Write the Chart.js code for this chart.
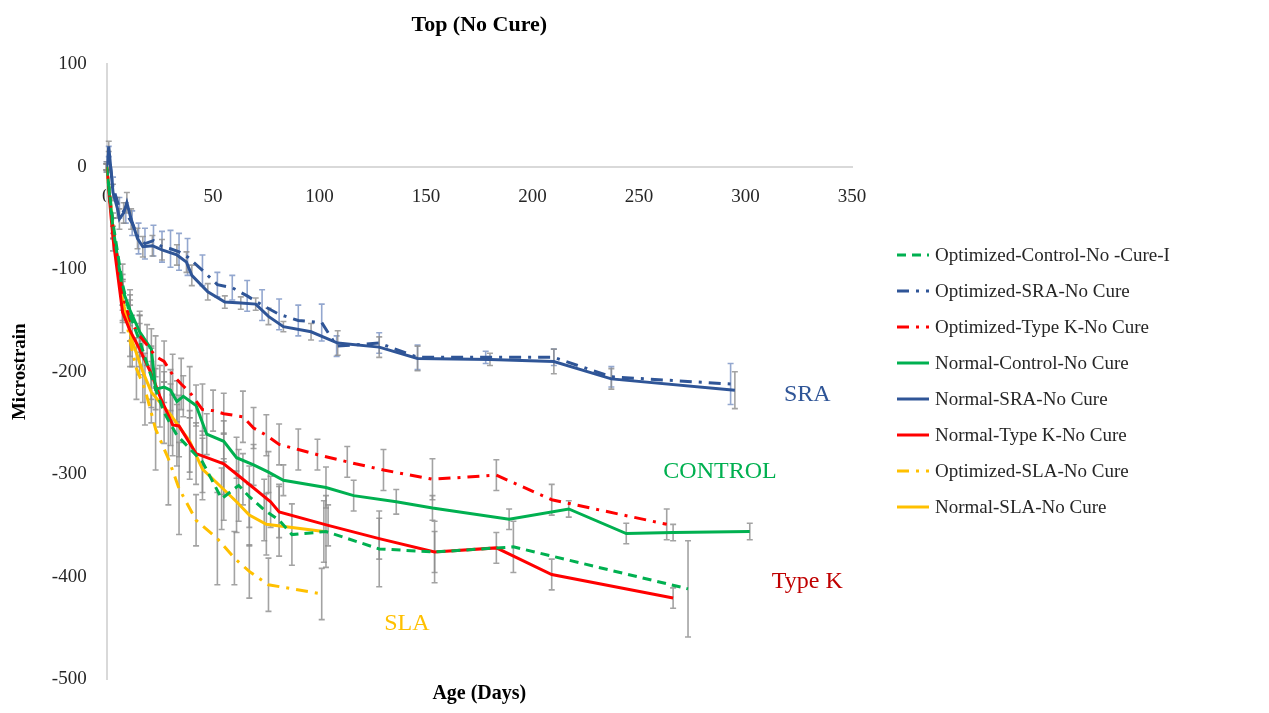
<!DOCTYPE html>
<html><head><meta charset="utf-8">
<script src="https://cdn.jsdelivr.net/npm/chart.js@4/dist/chart.umd.min.js"></script>
<style>html,body{margin:0;padding:0;background:#fff;}#wrap{width:1269px;height:713px;position:relative;}</style>
</head><body><div id="wrap"><canvas id="c"></canvas></div>
<script>
// ---- Data (days, microstrain, error half-widths) ----
const optCtrlDays = [0,3,7.5,11,15.5,21,27,33,39,45,54,62,67,74,81,87,103,128,154,191,273];
const optCtrlVals = [0,-55,-115,-145,-170,-205,-240,-262,-275,-288,-324,-311,-322,-335,-345,-359,-356,-373,-376,-371,-412];
const optCtrlErr  = [3,10,20,25,25,30,30,30,30,30,30,35,30,30,35,30,35,37,30,25,47];

const optSraDays = [0,1,3,6,9,12,15,18,22,26,30,34,38,45,52,59,66,73,81,90,101,108,128,146,178,210,237,293];
const optSraVals = [0,15,-20,-40,-45,-55,-70,-75,-72,-78,-80,-83,-88,-101,-115,-118,-126,-135,-144,-150,-152,-175,-172,-186,-186,-186,-205,-212];
const optSraErr  = [5,5,10,10,10,12,15,15,15,15,18,18,18,15,12,12,15,15,15,15,18,10,10,12,6,8,10,20];

const optTkDays = [0,3,7.5,11,15.5,19,23,27,31,35,39,45,50,55,64,69,75,81,90,99,113,130,153,183,209,263];
const optTkVals = [0,-60,-125,-150,-165,-174,-185,-190,-203,-212,-220,-237,-238,-241,-244,-255,-262,-271,-276,-281,-288,-296,-305,-301,-325,-349];
const optTkErr  = [3,10,15,20,20,20,20,20,20,25,25,25,20,20,25,20,20,20,20,15,15,20,20,15,15,15];

const normCtrlDays = [0,3,7.5,11,15.5,21,23,27,30,33,36,42,47,55,61,69,76,83,103,116,136,153,189,217,244,266,302];
const normCtrlVals = [0,-60,-120,-140,-161,-178,-217,-215,-218,-229,-224,-233,-261,-268,-284,-291,-298,-306,-313,-321,-327,-333,-344,-334,-358,-357,-356];
const normCtrlErr  = [3,10,15,15,20,20,20,15,20,20,20,20,20,20,20,20,20,15,20,15,12,12,10,8,10,8,8];

const normSraDays = [0,1,3,5,6,8,9.5,11.5,14.5,17,21.5,26,33,37.5,40,47.5,55.5,63,70,76,83,96,108.5,128,146,180,210,237,295];
const normSraVals = [0,20,-25,-40,-51,-45,-35,-51,-70,-78,-77,-81,-86,-93,-106,-122,-132,-133,-134,-146,-156,-161,-172,-176,-187,-188,-190,-207,-218];
const normSraErr  = [5,5,8,10,10,10,10,10,10,10,10,10,10,10,10,8,6,6,6,8,5,8,12,10,12,6,12,10,18];

const normTkDays = [0,3,7.5,11,15.5,21,25,31,34,42,55,64,77,81,104,128,154,183,209,266];
const normTkVals = [0,-70,-142,-160,-178,-202,-224,-252,-253,-280,-290,-305,-327,-337,-350,-363,-376,-372,-398,-421];
const normTkErr  = [3,12,20,25,25,25,30,30,30,30,30,25,25,25,20,20,20,15,15,10];

const optSlaDays = [0,3,7.5,11,14,18,23,29,34,42,52,60,67,76,101];
const optSlaVals = [0,-60,-132,-170,-197,-217,-256,-285,-314,-345,-363,-382,-395,-408,-417];
const optSlaErr  = [3,10,20,25,30,35,40,45,45,25,45,26,26,26,25];

const normSlaDays = [0,3,7.5,12,17,21,30,39,45,55,61,67,75,102];
const normSlaVals = [0,-60,-130,-170,-200,-220,-242,-268,-295,-315,-327,-340,-349,-356];
const normSlaErr  = [3,10,20,25,30,30,30,30,30,30,30,30,30,30];

const seriesNames = ['Optimized-Control-No -Cure-I','Optimized-SRA-No Cure','Optimized-Type K-No Cure','Normal-Control-No Cure','Normal-SRA-No Cure','Normal-Type K-No Cure','Optimized-SLA-No Cure','Normal-SLA-No Cure'];
const xTicks = [0,50,100,150,200,250,300,350];
const yTicks = [100,0,-100,-200,-300,-400,-500];
const annoTexts = ['SRA','CONTROL','Type K','SLA'];
const annoDays  = [329,288,329,141];
const annoVals  = [-222,-298,-405,-446];

// ---- styling ----
const BLUE='#2F5597', GREEN='#00B050', RED='#FF0000', YEL='#FFC000';
const SERIF="'Liberation Serif','Times New Roman',serif";
Chart.defaults.font.family = SERIF;
Chart.defaults.color = '#262626';

function pts(d,v){ return d.map((x,i)=>({x:x,y:v[i]})); }
function ds(name,d,v,e,color,dash,errColor){
  return {label:name,data:pts(d,v),errors:e,errColor:errColor||'rgba(140,140,140,0.8)',
    borderColor:color,backgroundColor:color,borderWidth:3,borderDash:dash,
    pointRadius:0,pointHoverRadius:0,pointStyle:'line',tension:0,fill:false};
}
const DASH=[9,6], DASHDOT=[12,7,3,7];
const datasets = [
  ds(seriesNames[0],optCtrlDays,optCtrlVals,optCtrlErr,GREEN,DASH),
  ds(seriesNames[1],optSraDays,optSraVals,optSraErr,BLUE,DASHDOT,'rgba(120,145,195,0.8)'),
  ds(seriesNames[2],optTkDays,optTkVals,optTkErr,RED,DASHDOT),
  ds(seriesNames[3],normCtrlDays,normCtrlVals,normCtrlErr,GREEN,[]),
  ds(seriesNames[4],normSraDays,normSraVals,normSraErr,BLUE,[]),
  ds(seriesNames[5],normTkDays,normTkVals,normTkErr,RED,[]),
  ds(seriesNames[6],optSlaDays,optSlaVals,optSlaErr,YEL,DASHDOT),
  ds(seriesNames[7],normSlaDays,normSlaVals,normSlaErr,YEL,[])
];

const errorBars = {
  id:'errorBars',
  beforeDatasetsDraw(chart){
    const {ctx,scales:{x,y}} = chart;
    ctx.save(); ctx.lineWidth=1.6; ctx.setLineDash([]);
    chart.data.datasets.forEach((d,i)=>{
      if(!d.errors || !chart.isDatasetVisible(i)) return;
      ctx.strokeStyle=d.errColor;
      d.data.forEach((p,j)=>{
        const e=d.errors[j]; if(!e) return;
        const px=x.getPixelForValue(p.x), y1=y.getPixelForValue(p.y+e), y2=y.getPixelForValue(p.y-e);
        ctx.beginPath();
        ctx.moveTo(px,y1); ctx.lineTo(px,y2);
        ctx.moveTo(px-3,y1); ctx.lineTo(px+3,y1);
        ctx.moveTo(px-3,y2); ctx.lineTo(px+3,y2);
        ctx.stroke();
      });
    });
    ctx.restore();
  }
};
const annoColors=[BLUE,GREEN,'#C00000',YEL];
const annotations = {
  id:'annos',
  afterDatasetsDraw(chart){
    const {ctx,scales:{x,y}} = chart;
    ctx.save(); ctx.font='24px '+SERIF; ctx.textAlign='center'; ctx.textBaseline='middle';
    annoTexts.forEach((t,i)=>{ ctx.fillStyle=annoColors[i]; ctx.fillText(t,x.getPixelForValue(annoDays[i]),y.getPixelForValue(annoVals[i])); });
    ctx.restore();
  }
};
// legend drawn beside the plot, one row per dataset
const sideLegend = {
  id:'sideLegend',
  afterDraw(chart){
    const ctx=chart.ctx, L={x:897,y:255,gap:36,line:32,text:38};
    ctx.save(); ctx.font='19px '+SERIF; ctx.textBaseline='middle'; ctx.textAlign='left';
    chart.data.datasets.forEach((d,i)=>{
      const yy=L.y+i*L.gap;
      ctx.strokeStyle=d.borderColor; ctx.lineWidth=3; ctx.setLineDash(d.borderDash||[]);
      ctx.beginPath(); ctx.moveTo(L.x,yy); ctx.lineTo(L.x+L.line,yy); ctx.stroke();
      ctx.setLineDash([]); ctx.fillStyle='#262626'; ctx.fillText(d.label,L.x+L.text,yy+1);
    });
    ctx.restore();
  }
};

new Chart(document.getElementById('c'),{
  type:'line',
  data:{datasets:datasets},
  plugins:[errorBars,annotations,sideLegend],
  options:{
    responsive:true, maintainAspectRatio:false, animation:false,
    layout:{padding:{left:7,right:417,top:0,bottom:0}},
    plugins:{
      title:{display:true,text:'Top (No Cure)',fullSize:false,font:{size:22,weight:'bold'},color:'#000',padding:{top:12,bottom:26}},
      subtitle:{display:true,position:'bottom',text:'Age (Days)',fullSize:false,font:{size:20,weight:'bold'},color:'#000',padding:{top:3,bottom:7}},
      legend:{display:false},
      tooltip:{enabled:false}
    },
    scales:{
      x:{type:'linear',position:{y:0},min:0,max:350,
        afterBuildTicks(s){ s.ticks = xTicks.map(v=>({value:v})); },
        grid:{display:false,drawTicks:false},
        border:{display:true,color:'#D9D9D9',width:2},
        ticks:{padding:19,font:{size:19},color:'#262626',maxRotation:0}},
      y:{type:'linear',min:-500,max:100,
        afterBuildTicks(s){ s.ticks = yTicks.map(v=>({value:v})); },
        grid:{display:false,drawTicks:false},
        border:{display:true,color:'#D9D9D9',width:2},
        ticks:{padding:20,font:{size:19},color:'#262626'},
        title:{display:true,text:'Microstrain',font:{size:19,weight:'bold'},color:'#000',padding:{top:2,bottom:0}}}
    }
  }
});
</script></body></html>
